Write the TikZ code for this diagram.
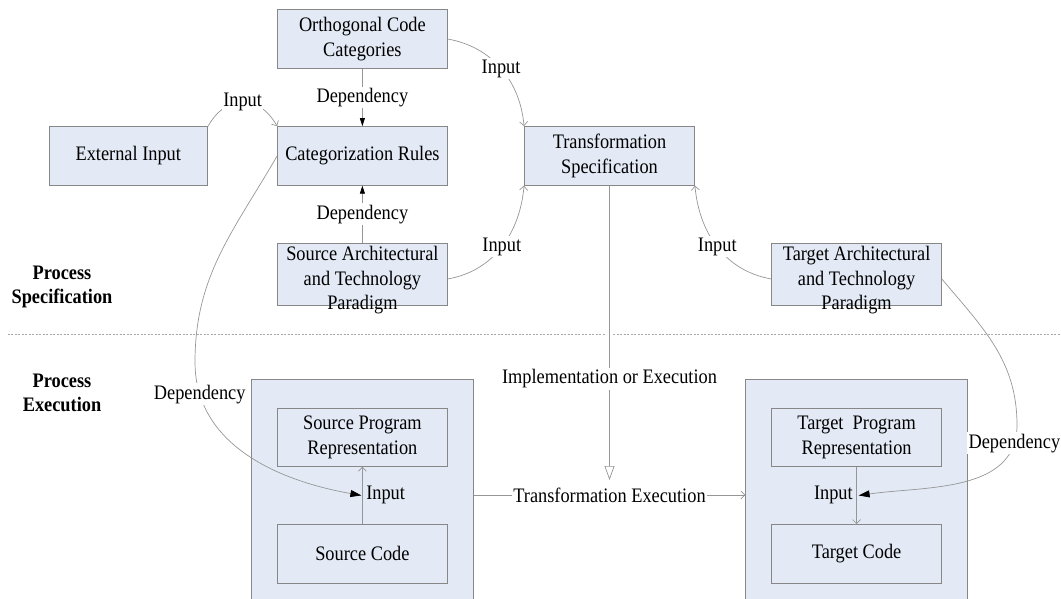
\documentclass[tikz,border=0pt]{standalone}
\usepackage{fontspec}
\setmainfont{Liberation Serif}[FakeStretch=0.89]
\usetikzlibrary{arrows.meta,calc}
\definecolor{boxfill}{RGB}{227,234,245}
\definecolor{boxline}{RGB}{135,135,135}
\definecolor{wire}{RGB}{150,150,150}
\definecolor{sepline}{RGB}{170,170,170}
\begin{document}
\begin{tikzpicture}[x=1pt,y=1pt,
  font=\fontsize{20.6}{24.5}\selectfont,
  box/.style={draw=boxline, line width=0.9pt, fill=boxfill, minimum width=169.6pt,
    minimum height=58.6pt, inner sep=0pt, align=center},
  tallbox/.style={box, minimum height=62.5pt,
    label={[align=center, yshift=-6pt]center:#1}},
  frame/.style={draw=boxline, line width=0.9pt, fill=boxfill, minimum width=221.5pt,
    minimum height=232pt, inner sep=0pt},
  wire/.style={draw=wire, line width=0.7pt},
  inp/.style={wire, -{Straight Barb[length=4pt,width=8pt]}},
  dep/.style={wire, -{Triangle[length=8pt,width=5pt,color=black]}},
  depc/.style={wire, -{Triangle[length=11pt,width=7pt,color=black]}},
  impl/.style={wire, -{Triangle[open,length=14pt,width=10pt,fill=white]}},
  lbl/.style={fill=white, inner sep=1.5pt},
  plain/.style={inner sep=3.5pt},
  sep/.style={draw=sepline, line width=0.8pt, dash pattern=on 2pt off 1.5pt},
  phase/.style={font=\fontsize{20.6}{24.5}\selectfont\bfseries, align=center}
]
\useasboundingbox (0,0) rectangle (1061,-599);
\clip (0,0) rectangle (1061,-599);

% execution frames
\node[frame] (souter) at (362.4,-495) {};
\node[frame] (touter) at (856.6,-495) {};

% specification boxes
\node[box] (orth) at (362.4,-39) {Orthogonal Code\\Categories};
\node[box, minimum width=158.6pt] (ext) at (128.3,-155.9) {External Input};
\node[box] (cat) at (362.4,-155.9) {Categorization Rules};
\node[tallbox={Source Architectural\\and Technology\\Paradigm}] (sarch) at (362.4,-274.3) {};
\node[box, minimum width=170pt] (trans) at (609.5,-155.9) {Transformation\\Specification};
\node[tallbox={Target Architectural\\and Technology\\Paradigm}] (tarch) at (856.6,-274.3) {};

% execution boxes
\node[box, minimum height=58pt] (spr) at (362.4,-437.3) {Source Program\\Representation};
\node[box, minimum height=58.5pt] (scode) at (362.4,-553.8) {Source Code};
\node[box, minimum height=58pt] (tpr) at (856.6,-437.3) {Target\ \ Program\\Representation};
\node[box, minimum height=58.5pt] (tcode) at (856.6,-553.8) {Target Code};

% phase labels and separator
\node[phase] (pspec) at (62,-287) {Process\\Specification};
\node[phase] (pexec) at (62,-393) {Process\\Execution};
\draw[sep] (7.6,-334.8) -- (604.5,-334.8);
\draw[sep] (613,-334.8) -- (1061,-334.8);

% specification connectors
\draw[dep] (orth) -- node[lbl]{Dependency} (cat);
\draw[dep] (sarch) -- node[lbl]{Dependency} (cat);
\draw[inp] (ext.north east) to[out=60,in=120,looseness=1.4] node[lbl]{Input} (cat.north west);
\draw[inp] (orth.east) to[out=-10,in=95] node[lbl]{Input} (trans.north west);
\draw[inp] ([yshift=-4.7pt]sarch.east) to[out=10,in=-95] node[lbl]{Input} (trans.south west);
\draw[inp] ([yshift=-4.7pt]tarch.west) to[out=170,in=-85] node[lbl]{Input} (trans.south east);

% specification to execution
\coordinate (implend) at (609.5,-480);
\draw[impl] (trans) -- node[lbl,pos=0.657]{Implementation or Execution} (implend);
\draw[inp] (souter) -- node[lbl]{Transformation Execution} (touter);

% inside the frames
\draw[inp] (scode) -- coordinate[pos=0.5] (sin) node[pos=0.5, right, plain]{Input} (spr);
\draw[inp] (tpr) -- coordinate[pos=0.5] (tin) node[pos=0.5, left, plain]{Input} (tcode);

% dependencies on the paradigm side
\coordinate (sbend) at (195,-362);
\draw[depc] (cat.west) to[out=240,in=90] (sbend)
  to[out=-90,in=170] node[lbl,pos=0.14]{Dependency} ([xshift=-1pt]sin);
\coordinate (tbend) at (1017,-425);
\draw[depc] ([yshift=-4.7pt]tarch.east) to[out=-50,in=90] (tbend)
  to[out=-90,in=8] node[lbl,pos=0.1]{Dependency} ([xshift=2pt]tin);
\end{tikzpicture}
\end{document}
